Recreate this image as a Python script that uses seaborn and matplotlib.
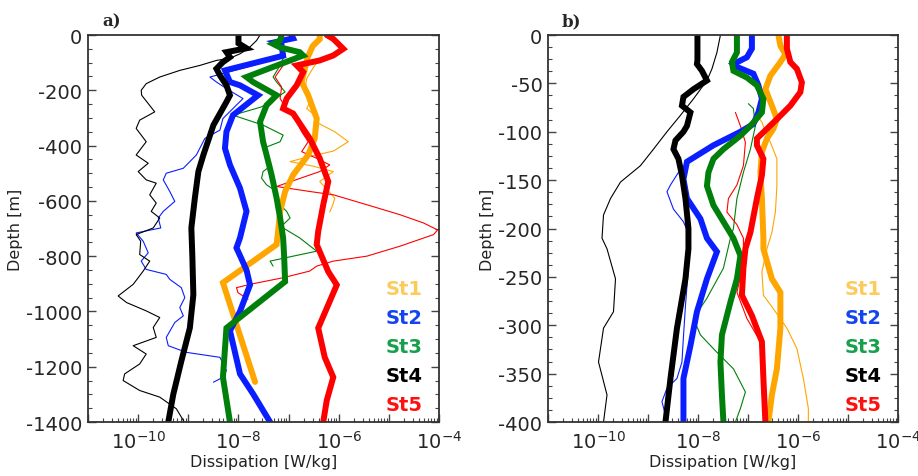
import numpy as np
import pandas as pd
import seaborn as sns
import matplotlib
matplotlib.use("Agg")
import matplotlib.pyplot as plt
from matplotlib.ticker import LogLocator, FuncFormatter, MultipleLocator, NullFormatter

# ---- panel a) : depth [m] and log10(dissipation) ----
# thin lines = single profiles, thick lines = station means
a_st1_thin_z = [-100, -130, -158, -206, -230, -266, -290, -320, -350, -386, -420, -440, -458, -475, -494, -530, -566, -590, -615, -640]
a_st1_thin_e = [-6.44, -6.55, -6.64, -6.68, -6.54, -6.64, -6.48, -6.40, -6.08, -5.81, -6.11, -6.60, -6.97, -6.50, -6.11, -6.38, -6.20, -6.08, -6.12, -6.18]
a_st1_z = [0, -15, -40, -80, -110, -170, -218, -302, -374, -434, -506, -566, -638, -710, -758, -896, -1255]
a_st1_e = [-6.38, -6.38, -6.52, -6.62, -6.66, -6.74, -6.61, -6.44, -6.48, -6.61, -6.91, -7.07, -7.17, -7.21, -7.24, -8.31, -7.67]

a_st2_thin_z = [-80, -110, -152, -170, -194, -230, -266, -302, -344, -374, -434, -482, -500, -524, -566, -602, -638, -662, -698,
                -716, -746, -788, -818, -848, -866, -884, -914, -950, -986, -1016, -1040, -1094, -1124, -1148, -1166, -1214, -1244, -1256]
a_st2_thin_e = [-7.24, -7.71, -8.57, -8.44, -8.24, -7.91, -8.11, -8.31, -8.37, -8.67, -8.84, -9.10, -9.44, -9.50, -9.37, -9.27, -9.50, -9.60, -9.55,
                -10.04, -9.90, -9.80, -9.94, -9.84, -9.44, -9.37, -9.14, -9.07, -9.17, -9.10, -9.27, -9.44, -9.40, -9.04, -8.37, -8.24, -8.37, -8.50]
a_st2_z = [0, -12, -26, -38, -75, -128, -170, -182, -218, -290, -350, -410, -470, -554, -638, -734, -770, -850, -904, -1000, -1070, -1226, -1298, -1400]
a_st2_e = [-6.94, -6.91, -7.27, -7.14, -7.11, -8.27, -8.17, -7.97, -7.61, -8.11, -8.24, -8.27, -8.17, -7.97, -7.84, -7.97, -8.04, -7.84, -7.77, -7.97, -8.17, -7.97, -7.71, -7.37]

a_st3_thin_z = [-68, -110, -152, -170, -206, -218, -260, -290, -302, -326, -362, -386, -410, -446, -470, -494, -518, -542, -566, -602, -638, -662, -686,
                -698, -734, -782, -800, -818, -836]
a_st3_thin_e = [-7.07, -7.17, -7.31, -7.24, -7.07, -7.17, -7.54, -8.11, -7.91, -7.51, -7.11, -7.17, -7.51, -7.44, -7.34, -7.51, -7.54, -7.44, -7.24, -7.24, -7.04, -6.97, -7.11,
                -7.11, -6.78, -6.44, -6.91, -7.37, -7.31]
a_st3_z = [0, -20, -32, -45, -62, -74, -152, -170, -218, -254, -314, -386, -434, -506, -590, -662, -734, -800, -892, -1060, -1238, -1400]
a_st3_e = [-7.14, -7.17, -7.31, -7.17, -6.78, -6.71, -7.84, -7.71, -7.24, -7.44, -7.57, -7.51, -7.44, -7.34, -7.24, -7.17, -7.11, -7.09, -7.07, -8.24, -8.31, -8.17]

a_st4_thin_z = [0, -20, -50, -68, -84, -92, -110, -128, -152, -176, -200, -218, -278, -308, -338, -386, -434, -464, -494, -524, -536, -578, -608, -638, -662, -698,
                -722, -746, -794, -818, -854, -902, -944, -968, -998, -1022, -1058, -1094, -1124, -1154, -1190, -1226, -1250, -1286, -1310, -1352, -1400]
a_st4_thin_e = [-7.57, -7.64, -7.81, -7.97, -8.17, -8.44, -8.77, -9.17, -9.57, -9.84, -9.94, -9.93, -9.67, -9.97, -10.04, -9.84, -10.04, -9.80, -10.00, -9.84, -9.64, -9.77, -9.64, -9.74, -9.57, -9.70,
                -10.04, -9.95, -9.97, -9.77, -9.90, -10.10, -10.40, -10.23, -9.84, -9.57, -9.70, -9.64, -10.10, -9.84, -9.97, -10.27, -10.30, -9.97, -9.57, -9.24, -9.08]
a_st4_z = [0, -30, -48, -62, -80, -98, -122, -146, -182, -218, -242, -326, -434, -494, -590, -698, -800, -940, -1060, -1180, -1300, -1400]
a_st4_e = [-8.0, -8.0, -7.84, -8.24, -8.17, -8.31, -8.44, -8.37, -8.24, -8.17, -8.24, -8.50, -8.70, -8.80, -8.87, -8.94, -8.92, -8.90, -8.97, -9.14, -9.30, -9.40]

a_st5_thin_z = [-86, -110, -152, -188, -230, -266, -290, -350, -386, -422, -446, -470, -494, -548, -566, -578, -614, -650, -680, -705, -722, -764, -800, -818, -836, -854, -878, -902, -914, -932, -956]
a_st5_thin_e = [-7.01, -7.11, -7.27, -7.14, -7.17, -7.04, -6.91, -6.74, -6.61, -6.74, -6.44, -6.18, -6.38, -7.24, -6.58, -6.11, -5.44, -4.78, -4.31, -4.03, -4.11, -4.78, -5.44, -6.11, -6.44, -6.58, -7.11, -7.77, -8.04, -8.01, -7.81]
a_st5_z = [0, -14, -50, -74, -92, -110, -134, -182, -230, -266, -284, -374, -446, -530, -614, -710, -758, -856, -904, -976, -1060, -1166, -1238, -1322, -1400]
a_st5_e = [-6.24, -6.11, -5.91, -6.11, -6.38, -6.84, -6.71, -6.84, -7.04, -7.11, -6.91, -6.58, -6.38, -6.21, -6.31, -6.41, -6.44, -6.21, -6.04, -6.21, -6.41, -6.28, -6.11, -6.24, -6.31]

# ---- panel b) : upper 400 m ----
b_st1_thin_z = [-83, -90, -100, -111, -128, -156, -183, -204, -221, -245, -269, -283, -303, -324, -355, -386, -400]
b_st1_thin_e = [-6.82, -6.72, -6.65, -6.55, -6.42, -6.42, -6.45, -6.52, -6.62, -6.72, -6.69, -6.49, -6.22, -6.02, -5.89, -5.79, -5.79]
b_st1_z = [0, -11, -20, -28, -42, -56, -73, -87, -97, -107, -121, -142, -169, -210, -221, -252, -266, -303, -345, -372, -400]
b_st1_e = [-6.39, -6.35, -6.25, -6.35, -6.55, -6.65, -6.52, -6.42, -6.49, -6.62, -6.72, -6.75, -6.72, -6.69, -6.69, -6.52, -6.35, -6.35, -6.42, -6.52, -6.59]

b_st2_thin_z = [-142, -155, -162, -180, -193, -210, -240, -280, -320, -338, -355, -365, -379, -393, -400]
b_st2_thin_e = [-8.39, -8.55, -8.62, -8.49, -8.29, -8.15, -8.19, -8.25, -8.30, -8.32, -8.42, -8.62, -8.72, -8.65, -8.60]
b_st2_z = [0, -14, -23, -30, -33, -40, -52, -66, -80, -92, -100, -114, -131, -149, -169, -190, -210, -224, -252, -286, -321, -355, -400]
b_st2_e = [-6.92, -6.92, -7.02, -7.29, -7.22, -6.89, -6.79, -6.72, -6.79, -6.89, -7.15, -7.69, -8.22, -8.29, -8.22, -7.95, -7.82, -7.62, -7.82, -8.02, -8.15, -8.29, -8.29]

b_st3_thin_z = [-71, -76, -94, -118, -142, -169, -200, -210, -241, -272, -293, -310, -328, -345, -369, -386, -400]
b_st3_thin_e = [-6.99, -6.89, -6.85, -6.95, -7.09, -7.22, -7.29, -7.35, -7.49, -7.82, -8.09, -7.95, -7.62, -7.29, -7.05, -7.15, -7.25]
b_st3_z = [0, -18, -28, -37, -44, -52, -66, -80, -94, -104, -118, -128, -142, -156, -176, -193, -210, -228, -252, -276, -310, -338, -372, -400]
b_st3_e = [-7.22, -7.22, -7.32, -7.29, -7.02, -6.82, -6.69, -6.72, -6.95, -7.15, -7.49, -7.69, -7.79, -7.82, -7.69, -7.49, -7.29, -7.15, -7.22, -7.35, -7.52, -7.55, -7.52, -7.49]

b_st4_thin_z = [0, -18, -35, -47, -66, -83, -100, -118, -135, -152, -169, -186, -210, -221, -252, -286, -303, -338, -372, -400]
b_st4_thin_e = [-7.55, -7.62, -7.72, -7.82, -8.09, -8.35, -8.62, -8.89, -9.15, -9.55, -9.75, -9.89, -9.92, -9.82, -9.65, -9.69, -9.89, -9.99, -9.82, -9.89]
b_st4_z = [0, -26, -30, -37, -47, -56, -64, -73, -80, -94, -100, -109, -118, -128, -145, -169, -200, -221, -252, -303, -355, -400]
b_st4_e = [-8.01, -8.01, -8.02, -7.92, -7.82, -8.09, -8.29, -8.32, -8.15, -8.22, -8.29, -8.45, -8.49, -8.39, -8.32, -8.25, -8.19, -8.19, -8.25, -8.42, -8.55, -8.65]

b_st5_thin_z = [-80, -94, -111, -135, -155, -169, -183, -196, -210, -230, -250, -266, -293, -317]
b_st5_thin_e = [-7.25, -7.15, -7.05, -7.09, -7.22, -7.39, -7.42, -7.22, -7.09, -7.09, -7.15, -7.22, -7.02, -6.75]
b_st5_z = [0, -14, -28, -35, -49, -59, -73, -87, -97, -107, -114, -128, -145, -169, -204, -221, -241, -269, -290, -317, -355, -400]
b_st5_e = [-6.22, -6.22, -6.15, -6.02, -5.92, -5.95, -6.15, -6.42, -6.62, -6.82, -6.82, -6.69, -6.72, -6.82, -6.95, -7.05, -7.09, -7.12, -6.92, -6.72, -6.69, -6.65]

stations = ["St1", "St2", "St3", "St4", "St5"]
line_colors = ["#ffa500", "#0a1eff", "#00800a", "#000000", "#ff0000"]
label_colors = ["#fdcb5c", "#1444f0", "#16a04c", "#000000", "#ff1010"]

panel_a = {
    "St1": (a_st1_thin_z, a_st1_thin_e, a_st1_z, a_st1_e),
    "St2": (a_st2_thin_z, a_st2_thin_e, a_st2_z, a_st2_e),
    "St3": (a_st3_thin_z, a_st3_thin_e, a_st3_z, a_st3_e),
    "St4": (a_st4_thin_z, a_st4_thin_e, a_st4_z, a_st4_e),
    "St5": (a_st5_thin_z, a_st5_thin_e, a_st5_z, a_st5_e),
}
panel_b = {
    "St1": (b_st1_thin_z, b_st1_thin_e, b_st1_z, b_st1_e),
    "St2": (b_st2_thin_z, b_st2_thin_e, b_st2_z, b_st2_e),
    "St3": (b_st3_thin_z, b_st3_thin_e, b_st3_z, b_st3_e),
    "St4": (b_st4_thin_z, b_st4_thin_e, b_st4_z, b_st4_e),
    "St5": (b_st5_thin_z, b_st5_thin_e, b_st5_z, b_st5_e),
}

sns.set_style("ticks")
plt.rcParams["font.family"] = ["DejaVu Sans"]
plt.rcParams["axes.unicode_minus"] = False
plt.rcParams["mathtext.fontset"] = "dejavusans"


def exp_label(v, pos):
    p = int(round(np.log10(v)))
    if p % 2 or p < -10:
        return ""
    return r"$10^{%d}$" % p


def draw_panel(ax, data, ymin, ystep, letter):
    # thin profiles first, thick means on top
    for name, col in zip(stations, line_colors):
        tz, te, z, e = data[name]
        d = pd.DataFrame({"eps": 10.0 ** np.array(te), "depth": tz})
        sns.lineplot(data=d, x="eps", y="depth", sort=False, estimator=None,
                     color=col, linewidth=0.8, ax=ax)
    for name, col in zip(stations, line_colors):
        tz, te, z, e = data[name]
        d = pd.DataFrame({"eps": 10.0 ** np.array(e), "depth": z})
        sns.lineplot(data=d, x="eps", y="depth", sort=False, estimator=None,
                     color=col, linewidth=4.3, ax=ax, solid_joinstyle="miter")
    ax.set_xscale("log")
    ax.set_xlim(1e-11, 1e-4)
    ax.set_ylim(ymin, 0)
    ax.xaxis.set_major_locator(LogLocator(base=10, numticks=20))
    ax.xaxis.set_major_formatter(FuncFormatter(exp_label))
    ax.xaxis.set_minor_locator(LogLocator(base=10, subs=np.arange(2, 10), numticks=20))
    ax.xaxis.set_minor_formatter(NullFormatter())
    ax.yaxis.set_major_locator(MultipleLocator(ystep))
    ax.yaxis.set_minor_locator(MultipleLocator(ystep / 4))
    ax.tick_params(which="both", direction="in", right=True, top=False, color="#444444")
    ax.tick_params(which="major", length=6, width=1.0, labelsize=14)
    ax.tick_params(axis="y", which="major", pad=4)
    ax.tick_params(axis="x", which="major", pad=6)
    ax.tick_params(which="minor", length=3, width=0.8)
    for s in ax.spines.values():
        s.set_color("#333333")
        s.set_linewidth(1.3)
    ax.set_xlabel("Dissipation [W/kg]", fontsize=11.5, color="#222222", labelpad=1)
    ax.set_ylabel("Depth [m]", fontsize=11.5, color="#222222", labelpad=2)
    ax.text(0.04, 1.015, letter, transform=ax.transAxes, fontsize=12,
            fontweight="bold", family="DejaVu Serif", va="bottom")
    ypos = [0.344, 0.269, 0.194, 0.119, 0.044]
    for name, col, yp in zip(stations, label_colors, ypos):
        ax.text(0.9, yp, name, transform=ax.transAxes, color=col, fontsize=14,
                fontweight="bold", ha="center", va="center")


fig = plt.figure(figsize=(9.18, 4.77), dpi=100)
ax1 = fig.add_axes([0.0959, 0.1132, 0.3824, 0.8113])
ax2 = fig.add_axes([0.597, 0.1132, 0.381, 0.8113])
draw_panel(ax1, panel_a, -1400, 200, "a)")
draw_panel(ax2, panel_b, -400, 50, "b)")

fig.savefig("out.png", dpi=100)
